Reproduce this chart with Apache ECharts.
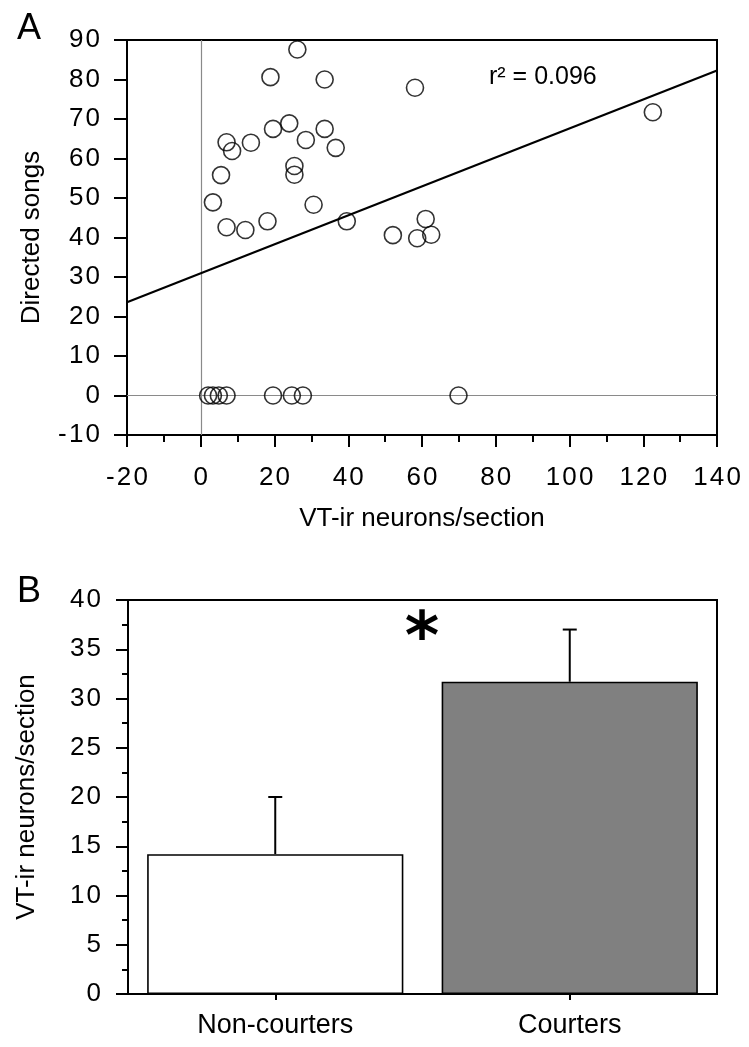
<!DOCTYPE html>
<html>
<head>
<meta charset="utf-8">
<script src="https://cdn.jsdelivr.net/npm/echarts@6/dist/echarts.min.js"></script>
<style>html,body{margin:0;padding:0;background:#fff}#c{width:749px;height:1047px}</style>
</head>
<body>
<div id="c"></div>
<script>
// Panel A: scatter data (VT-ir neurons/section vs directed songs)
var scatterX = [26.2, 18.9, 33.6, 58.1, 19.6, 24.0, 33.6, 7.0, 8.5, 13.6, 28.5, 36.6, 25.4, 25.4, 5.5, 3.3, 30.6, 7.0, 12.1, 18.1, 39.6, 52.1, 61.0, 58.7, 62.5, 122.6, 2.0, 3.3, 4.9, 7.0, 19.6, 24.7, 27.7, 69.9];
var scatterY = [87.6, 80.6, 80.0, 77.9, 67.5, 68.9, 67.5, 64.1, 61.9, 64.0, 64.7, 62.7, 58.1, 55.9, 55.8, 48.9, 48.3, 42.6, 41.9, 44.1, 44.1, 40.6, 44.7, 39.8, 40.7, 71.7, 0, 0, 0, 0, 0, 0, 0, 0];
// regression line endpoints
var fitX = [-20, 140];
var fitY = [23.6, 82.3];
var r2Text = 'r\u00b2 = 0.096';
// Panel B: bar data
var categories = ['Non-courters', 'Courters'];
var barValues = [14.2, 31.7];
var barErrors = [5.8, 5.3];
var barColors = ['#ffffff', '#808080'];

var FONT = "'Liberation Sans', Arial, Helvetica, sans-serif";
function spaced(v) { return String(v).split('').join('\u200a'); }

var scatterData = scatterX.map(function (x, i) { return [x, scatterY[i]]; });
var fitData = fitX.map(function (x, i) { return [x, fitY[i]]; });

var chart = echarts.init(document.getElementById('c'), null, { renderer: 'canvas' });

var axisLineStyle = { color: '#000', width: 2 };

var option = {
  backgroundColor: '#fff',
  animation: false,
  textStyle: { fontFamily: FONT },
  title: [
    { text: 'A', left: 12, top: 6, textStyle: { fontSize: 36, fontWeight: 'normal', color: '#000', fontFamily: FONT } },
    { text: 'B', left: 12, top: 569, textStyle: { fontSize: 36, fontWeight: 'normal', color: '#000', fontFamily: FONT } }
  ],
  grid: [
    { left: 127, right: 32, top: 40, bottom: 612, show: true, borderColor: '#000', borderWidth: 2, backgroundColor: 'transparent' },
    { left: 128, right: 32, top: 600, bottom: 53, show: true, borderColor: '#000', borderWidth: 2, backgroundColor: 'transparent' }
  ],
  xAxis: [
    {
      gridIndex: 0, type: 'value', min: -20, max: 140, interval: 20,
      name: 'VT-ir neurons/section', nameLocation: 'middle', nameGap: 71,
      nameTextStyle: { fontSize: 26, color: '#000', fontFamily: FONT },
      axisLine: { show: true, onZero: false, lineStyle: axisLineStyle },
      axisTick: { show: true, inside: false, length: 12, lineStyle: { color: '#000', width: 2 } },
      minorTick: { show: true, splitNumber: 2, length: 7, lineStyle: { color: '#000', width: 2 } },
      axisLabel: { fontSize: 26, color: '#000', margin: 30, formatter: spaced, fontFamily: FONT },
      splitLine: { show: false }
    },
    {
      gridIndex: 1, type: 'category', data: categories,
      axisLine: { show: true, lineStyle: axisLineStyle },
      axisTick: { show: true, alignWithLabel: true, inside: false, length: 6, lineStyle: { color: '#000', width: 2 } },
      axisLabel: { fontSize: 27, color: '#000', margin: 18, fontFamily: FONT },
      splitLine: { show: false }
    }
  ],
  yAxis: [
    {
      gridIndex: 0, type: 'value', min: -10, max: 90, interval: 10,
      name: 'Directed songs', nameLocation: 'middle', nameGap: 82,
      nameTextStyle: { fontSize: 26, color: '#000', fontFamily: FONT },
      axisLine: { show: true, onZero: false, lineStyle: axisLineStyle },
      axisTick: { show: true, inside: false, length: 13, lineStyle: { color: '#000', width: 2 } },
      axisLabel: { fontSize: 26, color: '#000', margin: 27, formatter: spaced, fontFamily: FONT },
      splitLine: { show: false }
    },
    {
      gridIndex: 1, type: 'value', min: 0, max: 40, interval: 5,
      name: 'VT-ir neurons/section', nameLocation: 'middle', nameGap: 88,
      nameTextStyle: { fontSize: 26, color: '#000', fontFamily: FONT },
      axisLine: { show: true, lineStyle: axisLineStyle },
      axisTick: { show: true, inside: false, length: 12, lineStyle: { color: '#000', width: 2 } },
      minorTick: { show: true, splitNumber: 2, length: 6, lineStyle: { color: '#000', width: 2 } },
      axisLabel: { fontSize: 26, color: '#000', margin: 27, formatter: spaced, fontFamily: FONT },
      splitLine: { show: false }
    }
  ],
  series: [
    {
      type: 'scatter', xAxisIndex: 0, yAxisIndex: 0,
      data: scatterData,
      symbol: 'circle', symbolSize: 17,
      itemStyle: { color: 'transparent', borderColor: '#000', borderWidth: 1.6 },
      z: 5,
      markLine: {
        silent: true, symbol: 'none', animation: false,
        label: { show: false },
        lineStyle: { color: '#8a8a8a', width: 1.2, type: 'solid' },
        data: [{ xAxis: 0 }, { yAxis: 0 }],
        z: 1
      }
    },
    {
      type: 'line', xAxisIndex: 0, yAxisIndex: 0,
      data: fitData, showSymbol: false, symbol: 'none',
      lineStyle: { color: '#000', width: 2.2 }, z: 4, silent: true
    },
    {
      type: 'bar', xAxisIndex: 1, yAxisIndex: 1,
      barCategoryGap: '13%',
      data: barValues.map(function (v, i) {
        return { value: v, itemStyle: { color: barColors[i], borderColor: '#000', borderWidth: 1.6 } };
      }),
      z: 2
    },
    {
      type: 'custom', xAxisIndex: 1, yAxisIndex: 1,
      data: barValues.map(function (v, i) { return [i, v, v + barErrors[i]]; }),
      renderItem: function (params, api) {
        var x = api.value(0);
        var p0 = api.coord([x, api.value(1)]);
        var p1 = api.coord([x, api.value(2)]);
        var hw = 7;
        return {
          type: 'group',
          children: [
            { type: 'line', shape: { x1: p0[0], y1: p0[1], x2: p1[0], y2: p1[1] }, style: { stroke: '#000', lineWidth: 2 } },
            { type: 'line', shape: { x1: p1[0] - hw, y1: p1[1], x2: p1[0] + hw, y2: p1[1] }, style: { stroke: '#000', lineWidth: 2 } }
          ]
        };
      },
      z: 3, silent: true
    }
  ],
  graphic: [
    { type: 'text', left: 489, top: 65, style: { text: r2Text, fontSize: 25, fill: '#000', fontFamily: FONT } },
    { type: 'text', x: 422, y: 641, style: { text: '*', fontSize: 66, fontWeight: 'bold', fill: '#000', fontFamily: "'DejaVu Sans', sans-serif", textAlign: 'center', textVerticalAlign: 'middle' } }
  ]
};
chart.setOption(option);
</script>
</body>
</html>
